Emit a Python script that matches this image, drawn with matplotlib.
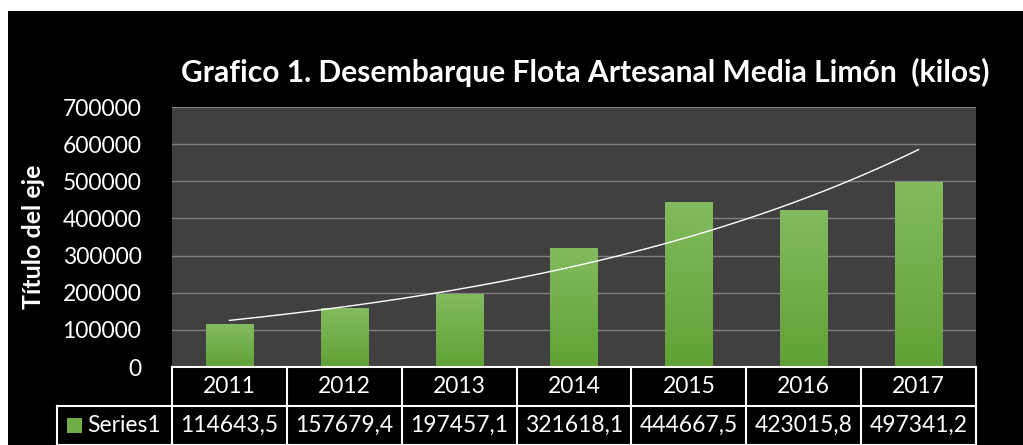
import numpy as np
import matplotlib
matplotlib.use("Agg")
import matplotlib.pyplot as plt
from matplotlib.patches import Rectangle

plt.rcParams["font.family"] = ["Lato", "DejaVu Sans"]

# data
years = ["2011", "2012", "2013", "2014", "2015", "2016", "2017"]
values = [114643.5, 157679.4, 197457.1, 321618.1, 444667.5, 423015.8, 497341.2]
value_labels = ["114643,5", "157679,4", "197457,1", "321618,1", "444667,5", "423015,8", "497341,2"]
series_name = "Series1"
title = "Grafico 1. Desembarque Flota Artesanal Media Limón  (kilos)"
ylabel = "Título del eje"
yticks = [0, 100000, 200000, 300000, 400000, 500000, 600000, 700000]

W, H = 1023, 445
fig = plt.figure(figsize=(W / 100, H / 100), dpi=100, facecolor="black")
# white strip top and left as in the screenshot
fig.patches.append(Rectangle((0, (H - 11) / H), 1, 11 / H, transform=fig.transFigure,
                             facecolor="white", edgecolor="none"))
fig.patches.append(Rectangle((0, 0), 8 / W, 1, transform=fig.transFigure,
                             facecolor="white", edgecolor="none"))

ax = fig.add_axes([172 / W, (H - 367) / H, (976 - 172) / W, (367 - 107) / H])
ax.set_facecolor("#404040")

x = np.arange(len(years))
bar_w = 0.41
bars = ax.bar(x, values, width=bar_w, color="#70AD47", zorder=2)

# vertical gradient on each bar, light at top, darker at bottom
grad = np.linspace(0, 1, 256).reshape(-1, 1)
cmap = matplotlib.colors.LinearSegmentedColormap.from_list("g", ["#60A236", "#83BB5E"])
for b in bars:
    im = ax.imshow(grad, cmap=cmap, aspect="auto", origin="lower", zorder=3,
                   extent=[b.get_x(), b.get_x() + b.get_width(), 0, b.get_height()])
    im.set_clip_path(b)

# exponential trendline (Excel style)
coef = np.polyfit(x + 1, np.log(values), 1)
xt = np.linspace(0, len(years) - 1, 200)
ax.plot(xt, np.exp(coef[1] + coef[0] * (xt + 1)), color="white", lw=1.0, zorder=4)

ax.set_xlim(-0.5, len(years) - 0.5)
ax.set_ylim(0, 700000)
ax.set_yticks(yticks)
ax.set_yticklabels([str(v) for v in yticks], color="white", fontsize=16.5)
ax.set_xticks([])
ax.tick_params(axis="y", length=0, pad=22)
ax.grid(axis="y", color="#808080", lw=1.0, zorder=1)
ax.set_axisbelow(True)
for s in ax.spines.values():
    s.set_visible(False)

ax.set_ylabel(ylabel, color="white", fontsize=18, fontweight="bold")
ax.yaxis.set_label_coords(-0.158, 0.5)

fig.text(585 / W, (H - 72) / H, title, color="white", fontsize=21.6, fontweight="bold",
         ha="center", va="center")

# data table below the axes
n = len(years)
rh = 39 / 260
label_x = (57 - 172) / 804
lkw = dict(color="white", lw=1.5, clip_on=False, transform=ax.transAxes, zorder=5)
ax.plot([0, 1], [0, 0], **lkw)
ax.plot([label_x, 1], [-rh, -rh], **lkw)
ax.plot([label_x, 1], [-2 * rh, -2 * rh], **lkw)
for i in range(n + 1):
    ax.plot([i / n, i / n], [0, -2 * rh], **lkw)
ax.plot([label_x, label_x], [-rh, -2 * rh], **lkw)

for i in range(n):
    ax.text((i + 0.5) / n, -0.5 * rh, years[i], transform=ax.transAxes, color="white",
            fontsize=16.5, ha="center", va="center")
    ax.text((i + 0.5) / n, -1.5 * rh, value_labels[i], transform=ax.transAxes, color="white",
            fontsize=16.5, ha="center", va="center")

ax.add_patch(Rectangle((label_x + 10 / 804, -1.5 * rh - 7 / 260), 15 / 804, 15 / 260,
                       transform=ax.transAxes, facecolor="#70AD47", edgecolor="none",
                       clip_on=False))
ax.text(label_x + 30 / 804, -1.5 * rh, series_name, transform=ax.transAxes, color="white",
        fontsize=16.5, ha="left", va="center")

fig.savefig("out.png", dpi=100, facecolor=fig.get_facecolor())
